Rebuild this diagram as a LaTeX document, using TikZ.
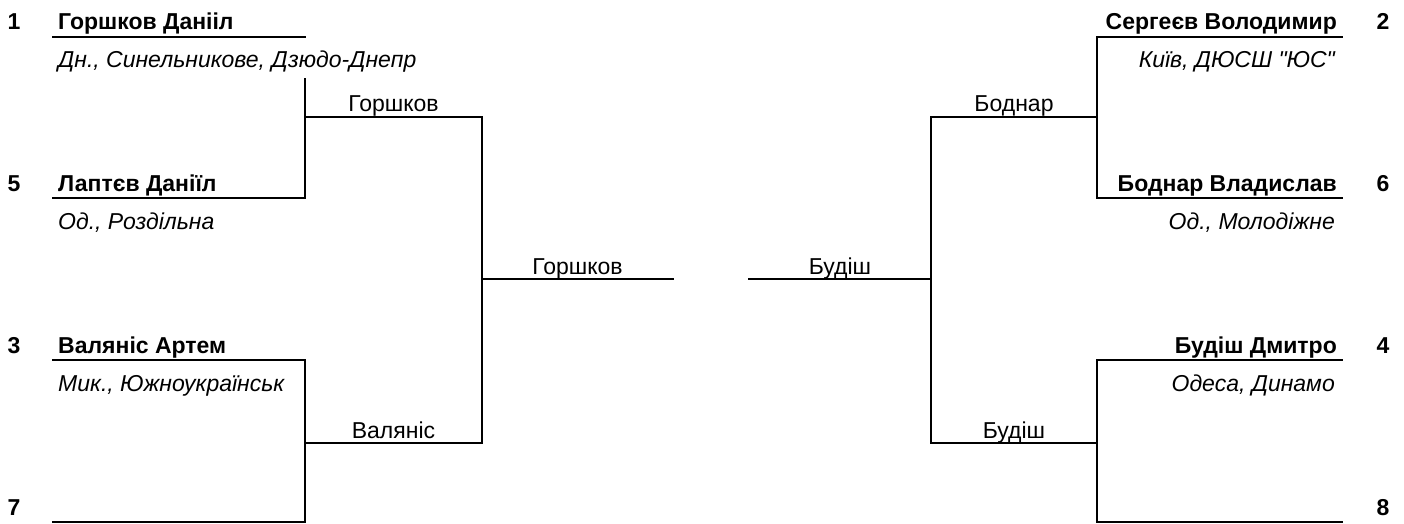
\documentclass[tikz,border=0pt]{standalone}
\usepackage{fontspec}
\setmainfont{Liberation Sans}[Ligatures=TeXOff]
\usetikzlibrary{calc}
\newcommand\drawsize{\fontsize{23}{27}\selectfont}
\tikzset{
	bracket/.style={line width=1.4pt,draw=black,line cap=rect},
	player/.style={font=\drawsize\bfseries,inner sep=0pt},
	club/.style={font=\drawsize\itshape,inner xsep=0pt,inner ysep=3pt,fill=white,
		text height=27pt,text depth=7pt},
	seed/.style={font=\drawsize\bfseries,inner sep=0pt,anchor=base},
	winner/.style={font=\drawsize,inner sep=0pt,anchor=base},
}

\begin{document}
\begin{tikzpicture}[x=1pt,y=-1pt]
		\useasboundingbox (0,0) rectangle (1404,524);
		
		% left half
		\coordinate (l1w) at (53,37);   \coordinate (l1e) at (305,37);
		\coordinate (l5w) at (53,198);  \coordinate (l5e) at (305,198);
		\coordinate (l3w) at (53,360);  \coordinate (l3e) at (305,360);
		\coordinate (l7w) at (53,522);  \coordinate (l7e) at (305,522);
		\coordinate (qf1w) at (305,117); \coordinate (qf1e) at (482,117);
		\coordinate (qf2w) at (305,443); \coordinate (qf2e) at (482,443);
		\coordinate (fLw) at (482,279); \coordinate (fLe) at (673,279);
		
		% right half
		\coordinate (r2w) at (1097,37);  \coordinate (r2e) at (1342,37);
		\coordinate (r6w) at (1097,198); \coordinate (r6e) at (1342,198);
		\coordinate (r4w) at (1097,360); \coordinate (r4e) at (1342,360);
		\coordinate (r8w) at (1097,522); \coordinate (r8e) at (1342,522);
		\coordinate (qf3w) at (931,117); \coordinate (qf3e) at (1097,117);
		\coordinate (qf4w) at (931,443); \coordinate (qf4e) at (1097,443);
		\coordinate (fRw) at (749,279); \coordinate (fRe) at (931,279);
		
		\draw[bracket] (l1w) -- (l1e) -- (l5e) -- (l5w);
		\draw[bracket] (l3w) -- (l3e) -- (l7e) -- (l7w);
		\draw[bracket] (qf1w) -- (qf1e) -- (qf2e) -- (qf2w);
		\draw[bracket] (fLw) -- (fLe);
		\draw[bracket] (r2e) -- (r2w) -- (r6w) -- (r6e);
		\draw[bracket] (r4e) -- (r4w) -- (r8w) -- (r8e);
		\draw[bracket] (qf3e) -- (qf3w) -- (qf4w) -- (qf4e);
		\draw[bracket] (fRw) -- (fRe);
		
		% players, left
		\node[seed] (seed1) at ($(l1w)+(-39,-7)$) {1};
		\node[player,anchor=base west] (p1) at ($(l1w)+(5,-7)$) {Горшков Данііл};
		\node[club,anchor=base west] (c1) at ($(l1w)+(5,31)$) {Дн., Синельникове, Дзюдо-Днепр};
		\node[seed] (seed5) at ($(l5w)+(-39,-7)$) {5};
		\node[player,anchor=base west] (p5) at ($(l5w)+(5,-7)$) {Лаптєв Даніїл};
		\node[club,anchor=base west] (c5) at ($(l5w)+(5,31)$) {Од., Роздільна};
		\node[seed] (seed3) at ($(l3w)+(-39,-7)$) {3};
		\node[player,anchor=base west] (p3) at ($(l3w)+(5,-7)$) {Валяніс Артем};
		\node[club,anchor=base west] (c3) at ($(l3w)+(5,31)$) {Мик., Южноукраїнськ};
		\node[seed] (seed7) at ($(l7w)+(-39,-7)$) {7};
		
		% players, right
		\node[seed] (seed2) at ($(r2e)+(41,-7)$) {2};
		\node[player,anchor=base east] (p2) at ($(r2e)+(-5,-7)$) {Сергеєв Володимир};
		\node[club,anchor=base east] (c2) at ($(r2e)+(-7,31)$) {Київ, ДЮСШ "ЮС"};
		\node[seed] (seed6) at ($(r6e)+(41,-7)$) {6};
		\node[player,anchor=base east] (p6) at ($(r6e)+(-5,-7)$) {Боднар Владислав};
		\node[club,anchor=base east] (c6) at ($(r6e)+(-7,31)$) {Од., Молодіжне};
		\node[seed] (seed4) at ($(r4e)+(41,-7)$) {4};
		\node[player,anchor=base east] (p4) at ($(r4e)+(-5,-7)$) {Будіш Дмитро};
		\node[club,anchor=base east] (c4) at ($(r4e)+(-7,31)$) {Одеса, Динамо};
		\node[seed] (seed8) at ($(r8e)+(41,-7)$) {8};
		
		% winners
		\node[winner] (w1) at ($(qf1w)!0.5!(qf1e)+(0,-5)$) {Горшков};
		\node[winner] (w2) at ($(qf2w)!0.5!(qf2e)+(0,-5)$) {Валяніс};
		\node[winner] (w3) at ($(qf3w)!0.5!(qf3e)+(0,-5)$) {Боднар};
		\node[winner] (w4) at ($(qf4w)!0.5!(qf4e)+(0,-5)$) {Будіш};
		\node[winner] (wL) at ($(fLw)!0.5!(fLe)+(0,-5)$) {Горшков};
		\node[winner] (wR) at ($(fRw)!0.5!(fRe)+(0,-5)$) {Будіш};
	\end{tikzpicture}
\end{document}
